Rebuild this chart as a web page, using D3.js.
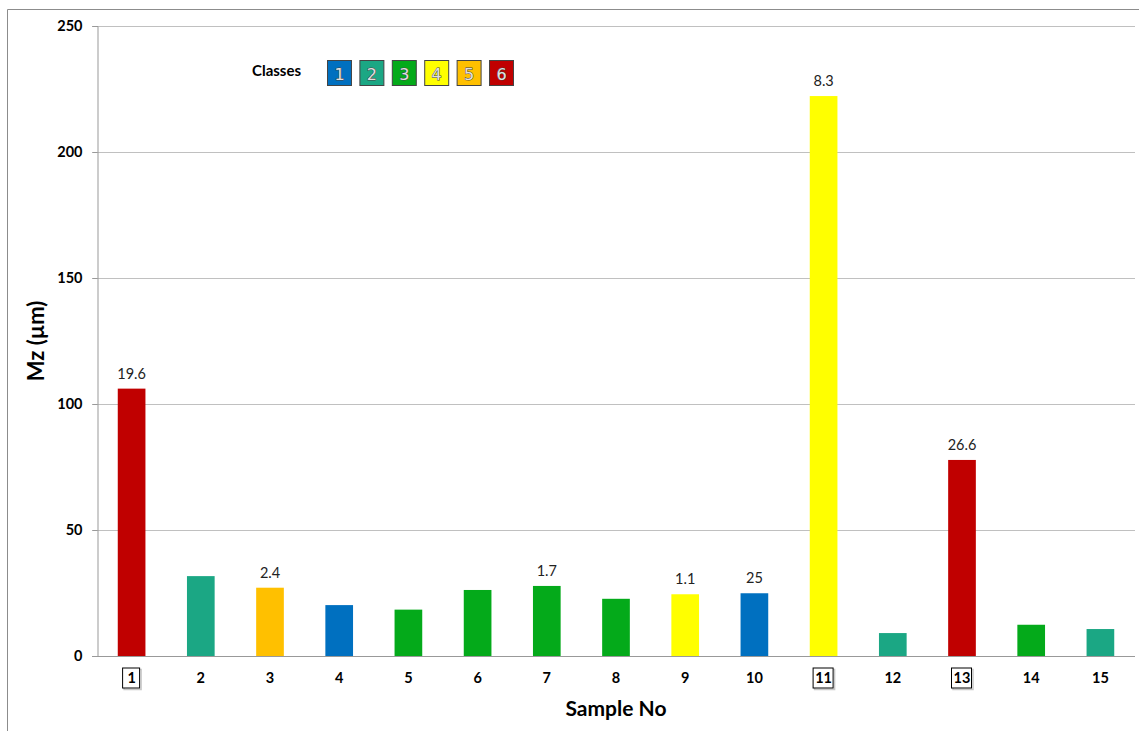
<!DOCTYPE html>
<html><head><meta charset="utf-8">
<script src="https://cdn.jsdelivr.net/npm/d3@7"></script>
<style>body{margin:0;background:#fff}svg{display:block}</style>
</head><body>
<svg id="c" width="1139" height="731"></svg>
<script>
const samples = ["1","2","3","4","5","6","7","8","9","10","11","12","13","14","15"];
const mz = [106.1, 31.7, 27.1, 20.2, 18.4, 26.2, 27.8, 22.7, 24.5, 24.9, 222.2, 9.1, 77.8, 12.4, 10.7];
const sampleClass = [6, 2, 5, 1, 3, 3, 3, 3, 4, 1, 4, 2, 6, 3, 2];
const dataLabels = ["19.6", "", "2.4", "", "", "", "1.7", "", "1.1", "25", "8.3", "", "26.6", "", ""];
const boxedSamples = ["1", "11", "13"];
const classes = [1, 2, 3, 4, 5, 6];
const classColors = ["#0070C0", "#1BA784", "#04AA1A", "#FFFF00", "#FFC000", "#C00000"];
const yTicks = [0, 50, 100, 150, 200, 250];

const font = "Lato, 'Open Sans', sans-serif";
const svg = d3.select("#c");
const m = {l: 97, r: 1135, t: 26, b: 656};

// outer frame
svg.append("path").attr("d", `M7.5,731 V9.5 H1139`).attr("fill","none").attr("stroke","#8c8c8c").attr("stroke-width",1);

const x = d3.scaleBand().domain(samples).range([m.l, m.r]).paddingInner(0.6).paddingOuter(0.3);
const y = d3.scaleLinear().domain([0, 250]).range([m.b, m.t]);
const color = d3.scaleOrdinal().domain(classes).range(classColors);

// gridlines
svg.append("g").selectAll("line").data(yTicks.filter(d => d > 0)).join("line")
  .attr("x1", m.l - 5).attr("x2", m.r)
  .attr("y1", d => Math.round(y(d)) + 0.5).attr("y2", d => Math.round(y(d)) + 0.5)
  .attr("stroke", "#c0c0c0").attr("stroke-width", 1);

// y axis
const yAxis = svg.append("g").attr("transform", `translate(${m.l + 0.5},0)`)
  .call(d3.axisLeft(y).tickValues(yTicks).tickSize(5).tickPadding(10));
yAxis.select(".domain").attr("stroke", "#999");
yAxis.selectAll(".tick line").attr("stroke", "#999");
yAxis.selectAll("text").attr("font-family", font).attr("font-weight", "bold").attr("font-size", 14.5).attr("fill", "#000");

// bars
svg.append("g").selectAll("rect").data(samples).join("rect")
  .attr("x", d => x(d)).attr("width", x.bandwidth())
  .attr("y", (d, i) => y(mz[i])).attr("height", (d, i) => y(0) - y(mz[i]))
  .attr("fill", (d, i) => color(sampleClass[i]));

// x axis
const xAxis = svg.append("g").attr("transform", `translate(0,${m.b + 0.5})`)
  .call(d3.axisBottom(x).tickSize(0).tickPadding(16));
xAxis.select(".domain").attr("stroke", "#999").attr("d", `M${m.l - 5},0H${m.r}`);
xAxis.selectAll("text").attr("font-family", font).attr("font-weight", "bold").attr("font-size", 14.5).attr("fill", "#000");
xAxis.selectAll(".tick").filter(d => boxedSamples.includes(d)).each(function(d) {
  const w = d.length > 1 ? 20 : 17;
  d3.select(this).insert("rect", "text")
    .attr("x", -w / 2 + 1).attr("y", 13).attr("width", w).attr("height", 20)
    .attr("fill", "none").attr("stroke", "#c8c8c8").attr("stroke-width", 1.5);
  d3.select(this).insert("rect", "text")
    .attr("x", -w / 2 + 0.5 - 1).attr("y", 11.5).attr("width", w).attr("height", 20)
    .attr("fill", "#fff").attr("stroke", "#000").attr("stroke-width", 1);
});

// data labels
svg.append("g").selectAll("text").data(samples).join("text")
  .attr("x", d => x(d) + x.bandwidth() / 2)
  .attr("y", (d, i) => y(mz[i]) - 10)
  .attr("text-anchor", "middle").attr("font-family", font).attr("font-size", 14.5).attr("fill", "#222")
  .text((d, i) => dataLabels[i]);

// axis titles
svg.append("text").attr("transform", `translate(44,${(m.t + m.b) / 2}) rotate(-90)`)
  .attr("text-anchor", "middle").attr("font-family", font).attr("font-weight", "bold").attr("font-size", 22)
  .text("Mz (µm)");
svg.append("text").attr("x", (m.l + m.r) / 2).attr("y", 716)
  .attr("text-anchor", "middle").attr("font-family", font).attr("font-weight", "bold").attr("font-size", 21)
  .text("Sample No");

// legend
const lg = svg.append("g");
lg.append("text").attr("x", 252).attr("y", 76).attr("font-family", font).attr("font-weight", "bold").attr("font-size", 15).text("Classes");
const lx = d3.scaleBand().domain(classes).range([327, 513]).paddingInner(0.26);
const items = lg.selectAll("g.it").data(classes).join("g").attr("class", "it")
  .attr("transform", d => `translate(${lx(d)},60)`);
items.append("rect").attr("x", 0.5).attr("y", 0.5).attr("width", lx.bandwidth()).attr("height", 25)
  .attr("fill", d => color(d)).attr("stroke", "#444").attr("stroke-width", 1);
items.append("text").attr("x", lx.bandwidth() / 2 + 0.5).attr("y", 19.5).attr("text-anchor", "middle")
  .attr("font-family", "'DejaVu Sans', sans-serif").attr("font-size", 16)
  .attr("fill", "#e0e0e0").attr("stroke", "#444").attr("stroke-width", 0.9).attr("paint-order", "stroke")
  .text(d => d);
</script>
</body></html>
